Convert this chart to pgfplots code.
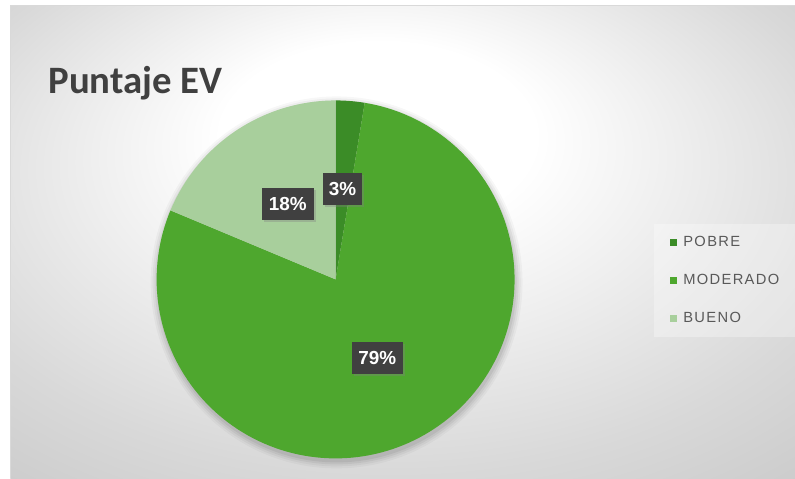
\documentclass[border=0pt]{standalone}
\usepackage{pgfplots}
\pgfplotsset{compat=1.18}
\usepackage{pgfplotstable}
\usepackage{fontspec}
\setmainfont{Carlito}
\newfontfamily\arialfont{Liberation Sans}
\newfontfamily\legfont[LetterSpace=9]{Liberation Sans}
\usetikzlibrary{shadows}
\definecolor{pobre}{HTML}{3B8C27}
\definecolor{moderado}{HTML}{4EA72E}
\definecolor{bueno}{HTML}{A8CF9C}
\definecolor{lblbox}{HTML}{404040}
\definecolor{legtxt}{HTML}{595959}
\definecolor{framecol}{HTML}{D9D9D9}
\pgfdeclareradialshading{bgshade}{\pgfpoint{-2bp}{14bp}}{color(0bp)=(white); color(10bp)=(white); color(30bp)=(black!15); color(50bp)=(black!27)}
\pgfplotstableread{
label value
POBRE 2.6
MODERADO 78.7
BUENO 18.7
}\piedata
\begin{document}
\pgfplotstablegetelem{0}{value}\of\piedata
\pgfmathsetmacro\aA{\pgfplotsretval*3.6}
\pgfplotstablegetelem{1}{value}\of\piedata
\pgfmathsetmacro\aB{\aA+\pgfplotsretval*3.6}
\begin{tikzpicture}
\begin{axis}[
  width=795bp, height=481bp, scale only axis,
  xmin=0, xmax=795, ymin=0, ymax=481,
  hide axis, clip=false,
  legend cell align=left,
  legend image code/.code={\fill[#1, fill opacity=1] (0bp,-3.5bp) rectangle (7bp,3.5bp);},
  legend style={at={(0.8214,0.532)}, anchor=north west, draw=none,
    fill=white, fill opacity=0.3, text opacity=1,
    inner xsep=16bp, inner ysep=11bp,
    row sep=23.5bp, column sep=5bp, text=legtxt,
    font=\legfont\fontsize{14.8bp}{17bp}\selectfont,
    nodes={inner sep=1.5bp}},
]
% page and chart area
\path[fill=white] (axis cs:0,0) rectangle (axis cs:795,481);
\shade[shading=bgshade] (axis cs:6,0) rectangle (axis cs:795,475);
\draw[framecol, line width=1bp] (axis cs:6,0) -- (axis cs:6,475) -- (axis cs:795,475);
% soft shadow of pie
\fill[black, opacity=0.03] (axis cs:334,197) circle[radius=187bp];
\fill[black, opacity=0.04] (axis cs:334,197) circle[radius=185bp];
\fill[black, opacity=0.05] (axis cs:334,197) circle[radius=183bp];
\fill[black, opacity=0.06] (axis cs:334,197) circle[radius=181bp];
% slices
\addplot[draw=none, fill=pobre, domain=0:\aA, samples=8]
  ({333+180*sin(x)},{200+180*cos(x)}) -- (axis cs:333,200) -- cycle;
\addplot[draw=none, fill=moderado, domain=\aA:\aB, samples=150]
  ({333+180*sin(x)},{200+180*cos(x)}) -- (axis cs:333,200) -- cycle;
\addplot[draw=none, fill=bueno, domain=\aB:360, samples=40]
  ({333+180*sin(x)},{200+180*cos(x)}) -- (axis cs:333,200) -- cycle;
\legend{POBRE, MODERADO, BUENO}
% data labels
\tikzset{lbl/.style={fill=lblbox, text=white, inner sep=0pt, minimum height=32bp,
  font=\arialfont\fontsize{19bp}{20bp}\selectfont\bfseries,
  drop shadow={opacity=0.35, shadow xshift=2bp, shadow yshift=-2bp}}}
\node[lbl, minimum width=39bp] at (axis cs:340,291) {3\%};
\node[lbl, minimum width=52bp] at (axis cs:285,276) {18\%};
\node[lbl, minimum width=51bp] at (axis cs:375,121) {79\%};
% title
\node[anchor=base west, text=lblbox, inner sep=0pt,
  font=\fontsize{39bp}{44bp}\selectfont\bfseries] at (axis cs:44,387) {Puntaje EV};
\end{axis}
\pgfresetboundingbox
\path (current axis.south west) rectangle (current axis.north east);
\end{tikzpicture}
\end{document}
